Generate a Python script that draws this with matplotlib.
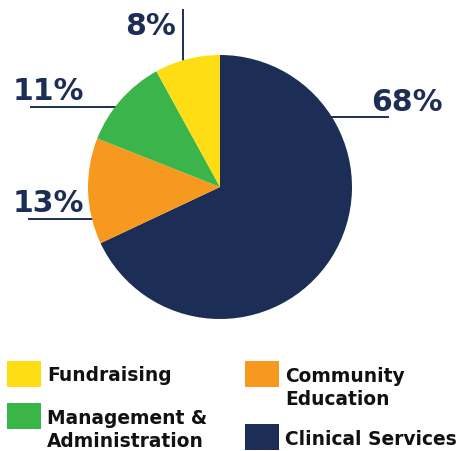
import matplotlib
matplotlib.use("Agg")
import matplotlib.pyplot as plt
from matplotlib.patches import Rectangle

# Data
categories = ["Clinical Services", "Community Education", "Management &\nAdministration", "Fundraising"]
values = [68, 13, 11, 8]
pct_labels = ["68%", "13%", "11%", "8%"]
colors = ["#1C2D56", "#F7991F", "#3BB54A", "#FFDD15"]

W, H = 459, 451
NAVY = "#1C2D56"
FONT = "DejaVu Sans"

fig = plt.figure(figsize=(W / 100, H / 100), dpi=100)
ax = fig.add_axes([0, 0, 1, 1])

def Y(py):
    return H - py

# Pie
ax.pie(values, colors=colors, startangle=90, counterclock=False,
       center=(220, Y(187)), radius=132, frame=True,
       wedgeprops=dict(linewidth=0, zorder=3))
ax.set_xlim(0, W)
ax.set_ylim(0, H)
ax.set_aspect("equal")
ax.axis("off")

# Leader lines and percentage labels (pixel layout)
lw = 1.4
PFS = 21.5
# 68%
ax.plot([320, 388], [Y(117), Y(117)], color=NAVY, lw=lw, zorder=1)
ax.text(371, Y(111), pct_labels[0], ha="left", va="baseline", fontsize=PFS,
        fontweight="bold", color=NAVY, family=FONT)
# 13%
ax.plot([29, 100], [Y(219), Y(219)], color=NAVY, lw=lw, zorder=1)
ax.text(13, Y(212), pct_labels[1], ha="left", va="baseline", fontsize=PFS,
        fontweight="bold", color=NAVY, family=FONT)
# 11%
ax.plot([31, 125], [Y(107), Y(107)], color=NAVY, lw=lw, zorder=1)
ax.text(13, Y(100), pct_labels[2], ha="left", va="baseline", fontsize=PFS,
        fontweight="bold", color=NAVY, family=FONT)
# 8%
ax.plot([183, 183], [Y(10), Y(65)], color=NAVY, lw=lw, zorder=1)
ax.text(176, Y(35), pct_labels[3], ha="right", va="baseline", fontsize=PFS,
        fontweight="bold", color=NAVY, family=FONT)

# Legend (custom layout)
legend_items = [
    (3, 7, 361, 47, [(381, "Fundraising")]),
    (2, 7, 403, 47, [(424, "Management &"), (447, "Administration")]),
    (1, 245, 361, 285, [(382, "Community"), (405, "Education")]),
    (0, 245, 424, 285, [(445, "Clinical Services")]),
]
for idx, bx, by, tx, lines in legend_items:
    ax.add_patch(Rectangle((bx, Y(by + 26)), 34, 26, facecolor=colors[idx],
                           edgecolor="none", zorder=2))
    for base, txt in lines:
        ax.text(tx, Y(base), txt, ha="left", va="baseline", fontsize=13.4,
                fontweight="bold", color="#111111", family=FONT)

fig.savefig("out.png", dpi=100)
